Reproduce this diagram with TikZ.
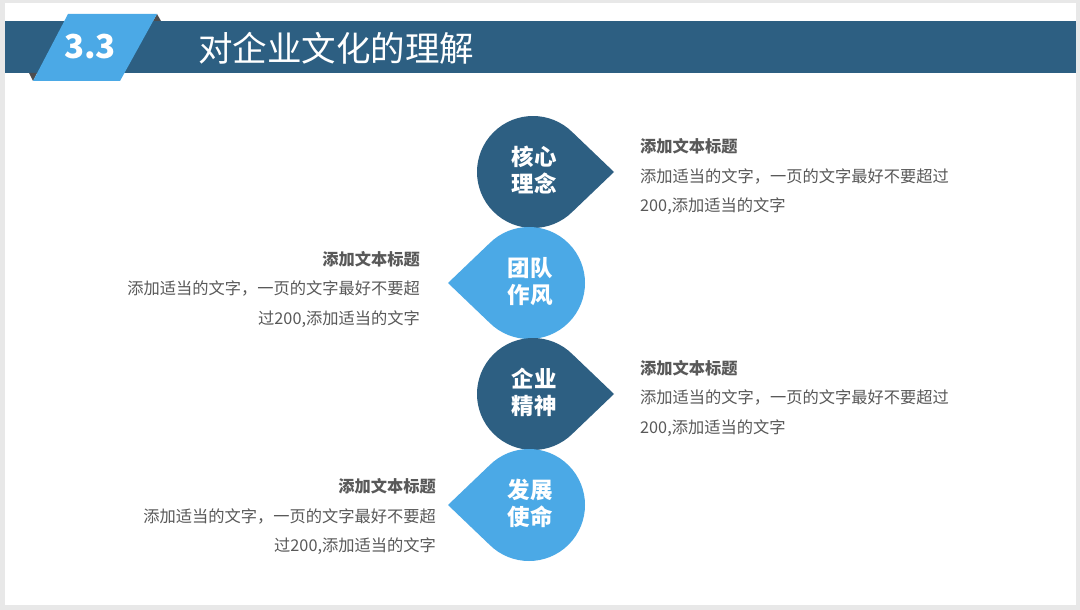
\documentclass[tikz,border=0pt]{standalone}
\usepackage{fontspec}
\setmainfont{Noto Sans CJK SC}
\definecolor{deepblue}{HTML}{2D5F82}
\definecolor{skyblue}{HTML}{4BA9E6}
\definecolor{foldgray}{HTML}{4D4D4F}
\definecolor{txtgray}{HTML}{595959}
\definecolor{framegray}{HTML}{E8E8E8}

\begin{document}
\begin{tikzpicture}[x=1pt,y=-1pt,font=\fontsize{16.25}{29.5}\selectfont,
  petal/.style={text=white,font=\fontsize{22.5}{27}\selectfont\bfseries,align=center,inner sep=0},
  info/.style={text=txtgray,inner sep=0}]
\fill[framegray] (0,0) rectangle (1080,610);
\fill[white] (5,3) rectangle (1076,605);
\useasboundingbox (0,0) rectangle (1080,610);
% header bar
\fill[deepblue] (5,21) rectangle (1076,73);
\fill[foldgray] (157,14) -- (161,21) -- (153,21) -- cycle;
\fill[foldgray] (33,81) -- (29,73) -- (37,73) -- cycle;
\fill[skyblue] (68,14) -- (157,14) -- (120,81) -- (33,81) -- cycle;
\node[text=white,font=\fontsize{33}{33}\selectfont\bfseries] (num) at (90,47) {3.3};
\node[text=white,font=\fontsize{34.5}{34.5}\selectfont,anchor=west,inner sep=0] (title) at (198,48) {对企业文化的理解};
% drops
\foreach \i/\cx/\cy/\a/\col/\txt in {1/533/172/0/deepblue/{核心\\理念},2/529/283/180/skyblue/{团队\\作风},
  3/533/394/0/deepblue/{企业\\精神},4/529/505/180/skyblue/{发展\\使命}}{
  \fill[fill=\col] (\cx,\cy) +(\a:81) -- +(\a+45:56) arc[start angle=\a+45,delta angle=270,radius=56] -- cycle;
  \node[petal] (petal\i) at (\cx+1,\cy-1.5) {\txt};
}
% texts
\node[info,anchor=west,align=left] (info1) at (640,176.5) {{\bfseries 添加文本标题}\\添加适当的文字，一页的文字最好不要超过\\200,添加适当的文字};
\node[info,anchor=east,align=right] (info2) at (420,289) {{\bfseries 添加文本标题}\\添加适当的文字，一页的文字最好不要超\\过200,添加适当的文字};
\node[info,anchor=west,align=left] (info3) at (640,398) {{\bfseries 添加文本标题}\\添加适当的文字，一页的文字最好不要超过\\200,添加适当的文字};
\node[info,anchor=east,align=right] (info4) at (436,516.5) {{\bfseries 添加文本标题}\\添加适当的文字，一页的文字最好不要超\\过200,添加适当的文字};
\end{tikzpicture}
\end{document}
